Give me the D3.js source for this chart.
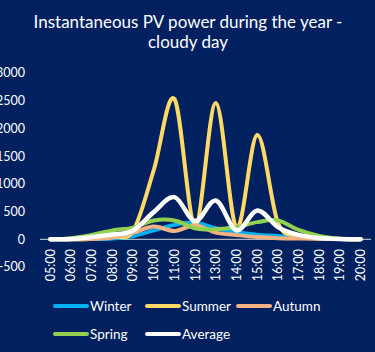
<!DOCTYPE html>
<html>
<head>
<meta charset="utf-8">
<script src="https://cdn.jsdelivr.net/npm/d3@7"></script>
<style>
  html, body { margin: 0; padding: 0; background: #002060; }
  svg { display: block; font-family: Lato, "Liberation Sans", sans-serif; }
</style>
</head>
<body>
<div class="chart-holder"></div>
<script>
const hours = ["05:00", "06:00", "07:00", "08:00", "09:00", "10:00", "11:00", "12:00",
  "13:00", "14:00", "15:00", "16:00", "17:00", "18:00", "19:00", "20:00"];
const winter = [0, 0, 5, 15, 60, 160, 260, 300, 200, 130, 80, 60, 35, 15, 5, 0];
const summer = [0, 0, 10, 50, 150, 1250, 2530, 250, 2460, 210, 1880, 300, 70, 25, 5, 0];
const autumn = [0, 0, 5, 30, 120, 230, 150, 250, 120, 75, 40, 20, 12, 6, 3, 0];
const spring = [0, 20, 80, 160, 210, 340, 340, 200, 180, 220, 310, 340, 170, 60, 10, 0];
const average = [0, 5, 40, 85, 160, 490, 760, 330, 700, 160, 520, 220, 80, 25, 5, 0];
const yTicks = [-500, 0, 500, 1000, 1500, 2000, 2500, 3000];

const seriesNames = ["Winter", "Summer", "Autumn", "Spring", "Average"];
const seriesValues = [winter, summer, autumn, spring, average];
const colors = ["#00b0f0", "#ffd966", "#f4b183", "#92d050", "#ffffff"];

const width = 375, height = 352;

const svg = d3.select('.chart-holder').append('svg')
  .attr('width', width).attr('height', height)

svg.append('rect').attr('width', width).attr('height', height).attr('fill', '#002060')

// title
const title = svg.append('text')
  .attr('x', 188).attr('y', 28)
  .attr('text-anchor', 'middle')
  .attr('fill', 'white')
  .style('font-size', '17px')
title.append('tspan').attr('x', 188).text('Instantaneous PV power during the year -')
title.append('tspan').attr('x', 188).attr('dy', 20).text('cloudy day')

const x = d3.scaleBand().domain(hours).range([40, 371])
const y = d3.scaleLinear().domain([-500, 3000]).range([267, 73])
const cx = d => x(d) + x.bandwidth() / 2

// y labels (cut at the left edge, as in the original)
svg.append('g').selectAll('text')
  .data(yTicks)
  .enter()
  .append('text')
  .attr('x', 25)
  .attr('y', d => y(d))
  .attr('dy', '0.35em')
  .attr('text-anchor', 'end')
  .attr('fill', 'white')
  .style('font-size', '12.5px')
  .text(d => d)

// zero line
svg.append('line')
  .attr('x1', 40).attr('x2', 371)
  .attr('y1', y(0)).attr('y2', y(0))
  .attr('stroke', '#d9d9d9').attr('stroke-width', 1)

// x labels, rotated
svg.append('g').selectAll('text')
  .data(hours)
  .enter()
  .append('text')
  .attr('transform', d => `translate(${cx(d)},249) rotate(-90)`)
  .attr('dy', '0.35em')
  .attr('text-anchor', 'end')
  .attr('fill', 'white')
  .style('font-size', '12.5px')
  .text(d => d)

const line = d3.line()
  .x((d, i) => cx(hours[i]))
  .y(d => y(d))
  .curve(d3.curveCardinal.tension(0))

svg.append('g').selectAll('path')
  .data(seriesValues)
  .enter()
  .append('path')
  .attr('d', d => line(d))
  .attr('fill', 'none')
  .attr('stroke', (d, i) => colors[i])
  .attr('stroke-width', (d, i) => i == 4 ? 4.5 : 4)
  .attr('stroke-linecap', 'round')
  .attr('stroke-linejoin', 'round')

// legend
const legendPos = [[54, 306], [146, 306], [237, 306], [54, 334], [146, 334]]
const legend = svg.append('g').selectAll('g')
  .data(seriesNames)
  .enter()
  .append('g')
  .attr('transform', (d, i) => `translate(${legendPos[i][0]},${legendPos[i][1]})`)

legend.append('line')
  .attr('x1', 1).attr('x2', 33)
  .attr('stroke', (d, i) => colors[i])
  .attr('stroke-width', 4)
  .attr('stroke-linecap', 'round')

legend.append('text')
  .attr('x', 36)
  .attr('dy', '0.35em')
  .attr('fill', 'white')
  .style('font-size', '13.5px')
  .text(d => d)
</script>
</body>
</html>
